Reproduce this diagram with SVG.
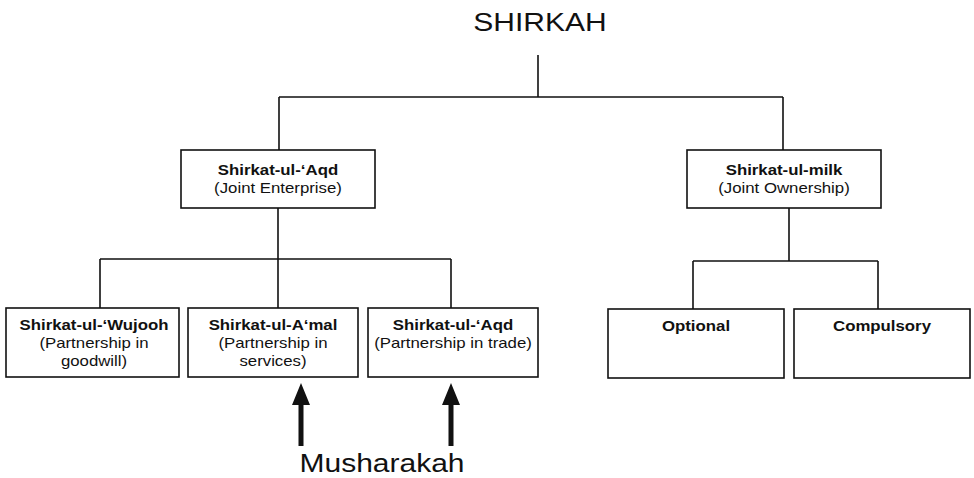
<svg xmlns="http://www.w3.org/2000/svg" width="974" height="478" viewBox="0 0 974 478">
<style>
.bg{fill:#ffffff}
.box{fill:#ffffff;stroke:#111;stroke-width:1.6}
.ln{stroke:#111;stroke-width:1.6;fill:none}
.b{font-family:"Liberation Sans",Arial,sans-serif;font-weight:bold;font-size:14px;fill:#111;text-anchor:middle}
.r{font-family:"Liberation Sans",Arial,sans-serif;font-size:14px;fill:#111;text-anchor:middle}
.big{font-family:"Liberation Sans",Arial,sans-serif;font-size:25px;fill:#111;text-anchor:middle}
.arr{fill:#111}
</style>
<rect class="bg" x="0" y="0" width="974" height="478"/>
<g id="connectors">
<path class="ln" d="M538,55 V97 M279,97 H783 M279,97 V150 M783,97 V150"/>
<path class="ln" d="M278,208 V308 M100,259 H451 M100,259 V308 M451,259 V308"/>
<path class="ln" d="M789,208 V261 M693,261 H878 M693,261 V309 M878,261 V309"/>
</g>
<g id="shirkah"><text class="big" transform="translate(540,31) scale(1.2,1)">SHIRKAH</text></g>
<g id="aqd-top">
<rect class="box" x="181" y="150" width="194" height="58"/>
<text class="b" transform="translate(278,175) scale(1.2,1)">Shirkat-ul-‘Aqd</text>
<text class="r" transform="translate(278,193) scale(1.2,1)">(Joint Enterprise)</text>
</g>
<g id="milk">
<rect class="box" x="687" y="150" width="194" height="58"/>
<text class="b" transform="translate(784,175) scale(1.2,1)">Shirkat-ul-milk</text>
<text class="r" transform="translate(784,193) scale(1.2,1)">(Joint Ownership)</text>
</g>
<g id="wujooh">
<rect class="box" x="6" y="308" width="173" height="69"/>
<text class="b" transform="translate(94,330) scale(1.2,1)">Shirkat-ul-‘Wujooh</text>
<text class="r" transform="translate(94,348) scale(1.2,1)">(Partnership in</text>
<text class="r" transform="translate(94,366) scale(1.2,1)">goodwill)</text>
</g>
<g id="amal">
<rect class="box" x="188" y="308" width="170" height="69"/>
<text class="b" transform="translate(273,330) scale(1.2,1)">Shirkat-ul-A‘mal</text>
<text class="r" transform="translate(273,348) scale(1.2,1)">(Partnership in</text>
<text class="r" transform="translate(273,366) scale(1.2,1)">services)</text>
</g>
<g id="aqd-trade">
<rect class="box" x="368" y="308" width="170" height="69"/>
<text class="b" transform="translate(453,330) scale(1.2,1)">Shirkat-ul-‘Aqd</text>
<text class="r" transform="translate(453,348) scale(1.2,1)">(Partnership in trade)</text>
</g>
<g id="optional">
<rect class="box" x="608" y="309" width="176" height="69"/>
<text class="b" transform="translate(696,331) scale(1.2,1)">Optional</text>
</g>
<g id="compulsory">
<rect class="box" x="794" y="309" width="176" height="69"/>
<text class="b" transform="translate(882,331) scale(1.2,1)">Compulsory</text>
</g>
<g id="arrows">
<path class="arr" d="M301,383 L310,405 L303.5,405 L303.5,446 L298.5,446 L298.5,405 L292,405 Z"/>
<path class="arr" d="M451,383 L460,405 L453.5,405 L453.5,446 L448.5,446 L448.5,405 L442,405 Z"/>
</g>
<g id="musharakah"><text class="big" transform="translate(382,472) scale(1.2,1)">Musharakah</text></g>
</svg>
